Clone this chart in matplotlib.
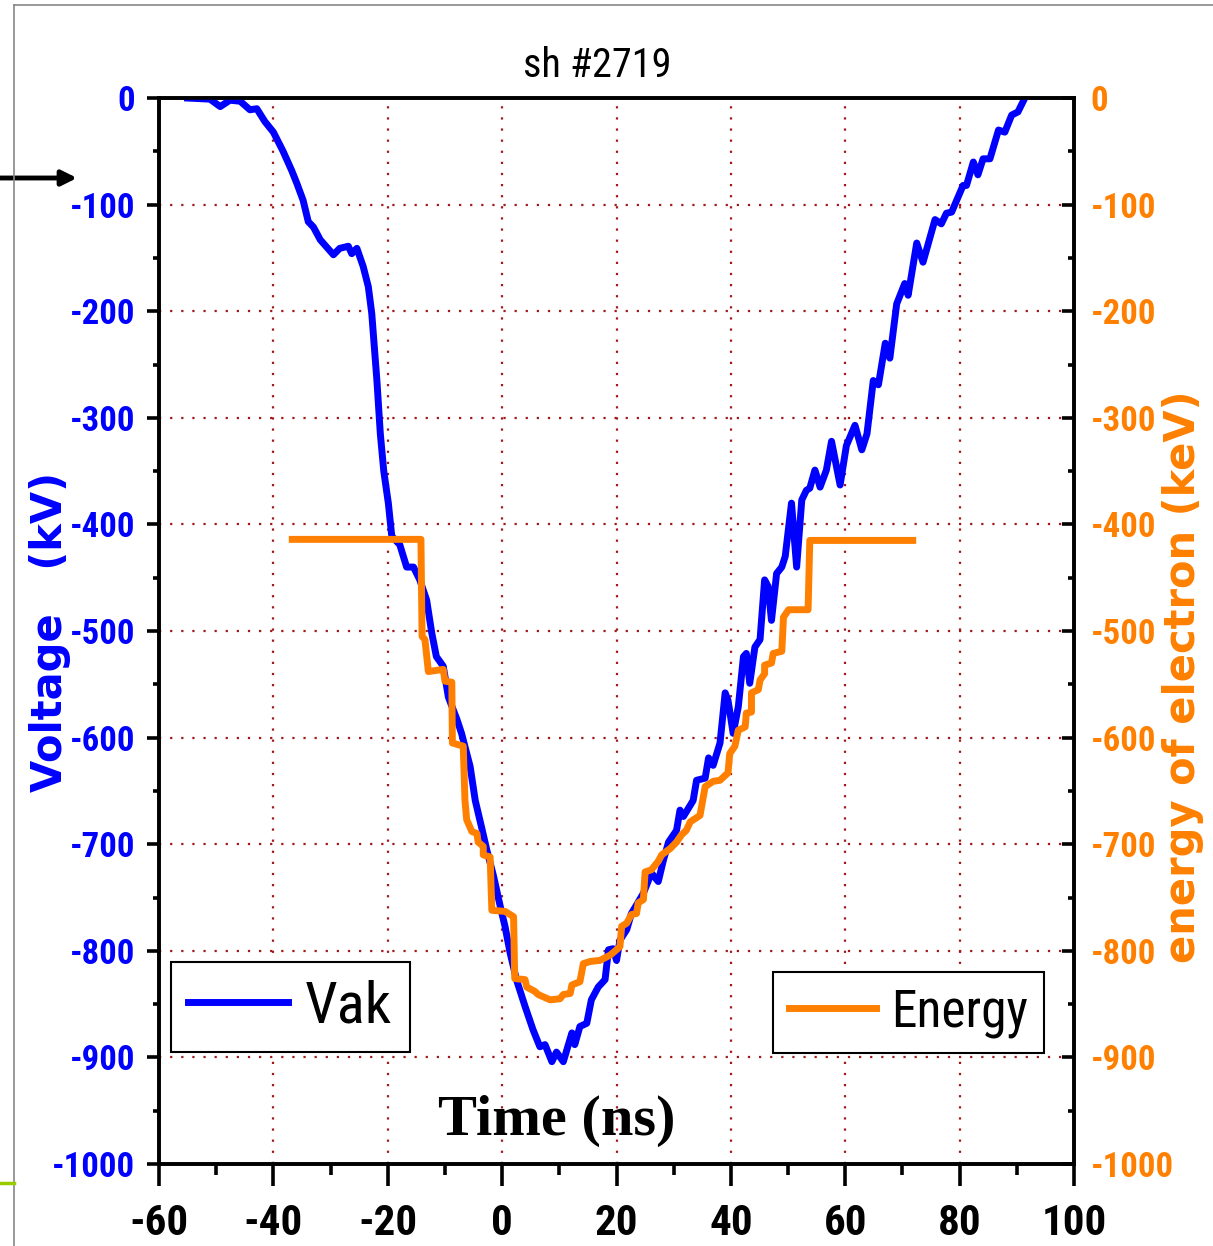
import matplotlib
matplotlib.use("Agg")
import matplotlib.pyplot as plt
from matplotlib.lines import Line2D
from matplotlib.ticker import MultipleLocator

plt.rcParams["axes.unicode_minus"] = False

# voltage trace Vak (kV) versus time (ns)
t_vak = [-55, -51.1, -49.3, -47.6, -45.8, -44.1, -42.9, -41.5, -40.0, -38.3, -36.8, -35.9,
         -34.8, -33.9, -33.0, -31.8, -29.5, -28.4, -26.9, -26.3, -25.4, -24.3, -23.4, -22.8,
         -21.9, -21.3, -20.7, -19.9, -19.3, -17.9, -16.7, -15.5, -14.4, -13.2, -12.3, -11.5,
         -10.3, -9.4, -7.9, -7.1, -5.6, -4.7, -3.6, -2.7, -1.5, -0.3, 0.5, 1.4, 2.5, 4.0,
         5.4, 6.6, 7.5, 8.7, 9.5, 10.7, 12.2, 12.7, 13.6, 14.8, 15.6, 16.8, 18.0, 18.6,
         19.4, 20.0, 20.6, 21.8, 22.6, 23.5, 24.7, 26.1, 27.3, 28.2, 29.1, 30.5, 31.1,
         31.7, 33.4, 34.0, 35.5, 36.1, 36.9, 38.1, 39.0, 39.5, 40.4, 41.3, 42.2, 42.7,
         43.3, 44.2, 45.1, 45.9, 46.5, 47.1, 48.0, 48.9, 49.5, 50.6, 51.5, 52.4, 53.2,
         53.8, 54.7, 55.6, 56.7, 57.6, 59.1, 60.2, 61.7, 62.9, 63.8, 64.9, 65.8, 67.0,
         67.8, 69.0, 70.4, 71.0, 72.5, 73.6, 75.7, 76.8, 77.7, 78.6, 80.6, 81.2, 82.4,
         83.2, 84.1, 85.3, 86.8, 87.9, 89.1, 90.2, 91.4]
v_vak = [0, -1, -8, -2, -3, -11, -10, -22, -32, -50, -68, -80,
         -96, -116, -121, -133, -147, -141, -139, -146, -141, -158, -177, -202,
         -265, -315, -350, -380, -411, -419, -440, -440, -452, -471, -502, -524,
         -533, -562, -583, -596, -627, -659, -684, -705, -730, -759, -777, -802, -827, -852,
         -874, -890, -888, -904, -895, -904, -877, -888, -871, -868, -846, -834, -827, -799,
         -798, -809, -790, -780, -765, -757, -746, -727, -735, -715, -698, -687, -668,
         -674, -659, -640, -638, -619, -626, -605, -558, -565, -596, -571, -524, -521,
         -549, -515, -508, -452, -458, -490, -446, -440, -430, -380, -440, -377, -368,
         -366, -349, -365, -349, -322, -363, -326, -307, -330, -315, -265, -269, -230,
         -244, -193, -174, -185, -136, -154, -114, -118, -108, -107, -82, -82, -60,
         -72, -57, -57, -30, -32, -16, -13, 0]

# electron energy (keV), stepped trace
t_en = [-36.7, -14.2, -14.0, -13.5, -12.9, -10.3, -10.0, -8.8, -8.7, -6.8, -6.5, -6.2,
        -5.3, -4.4, -4.2, -3.3, -3.3, -2.1, -1.8, 0.5, 2.0, 2.2, 4.0, 4.3, 5.7, 6.3,
        8.4, 10.1, 10.7, 11.9, 12.2, 13.6, 14.2, 15.4, 17.1, 18.9, 20.0, 20.6, 20.9,
        21.8, 22.6, 23.5, 23.8, 24.7, 25.0, 26.1, 27.3, 27.9, 29.4, 30.5, 31.4, 32.2,
        32.9, 34.6, 35.2, 35.5, 36.9, 38.1, 39.5, 39.8, 40.7, 41.3, 42.5, 42.7, 43.6,
        43.6, 44.8, 45.1, 45.9, 45.9, 47.1, 47.4, 48.9, 49.2, 50.1, 53.5, 53.8, 71.8]
e_en = [-414, -414, -505, -508, -538, -536, -547, -548, -605, -608, -659, -677,
        -688, -690, -698, -702, -710, -712, -762, -763, -768, -826, -827, -834, -838, -841,
        -846, -845, -841, -840, -832, -829, -812, -810, -809, -804, -799, -796, -777,
        -774, -766, -765, -755, -752, -726, -724, -716, -710, -704, -698, -691, -687,
        -679, -673, -655, -646, -641, -640, -633, -615, -608, -593, -590, -577, -576,
        -558, -555, -546, -540, -532, -530, -521, -519, -487, -480, -480, -415, -415]

narrow = ["Liberation Sans Narrow", "Noto Sans Condensed", "Roboto Condensed",
          "Arial Narrow", "Liberation Sans"]
blue = "#0000ff"
orange = "#ff8000"

fig = plt.figure(figsize=(12.13, 12.46), dpi=100)
ax = fig.add_axes([0.1311, 0.0658, 0.7543, 0.8555])
ax2 = ax.twinx()

ax.plot(t_vak, v_vak, color=blue, lw=5, label="Vak", zorder=3)
ax2.plot(t_en, e_en, color=orange, lw=5, label="Energy", zorder=3)

for a in (ax, ax2):
    a.set_xlim(-60, 100)
    a.set_ylim(-1000, 0)
    for s in a.spines.values():
        s.set_linewidth(2.6)

ax.xaxis.set_major_locator(MultipleLocator(20))
ax.xaxis.set_minor_locator(MultipleLocator(10))
ax.yaxis.set_major_locator(MultipleLocator(100))
ax.yaxis.set_minor_locator(MultipleLocator(50))
ax2.yaxis.set_major_locator(MultipleLocator(100))
ax2.yaxis.set_minor_locator(MultipleLocator(50))

ax.grid(True, which="major", color="#a01818", linestyle=(0, (1, 4)), lw=1.6)

ax.tick_params(axis="x", which="major", direction="out", length=16, width=2.6, pad=12)
ax.tick_params(axis="x", which="minor", direction="out", length=8, width=2.6)
ax.tick_params(axis="y", which="major", direction="out", length=9, width=2.6, pad=8,
               labelcolor=blue)
ax.tick_params(axis="y", which="minor", direction="out", length=4.5, width=2.6)
ax2.tick_params(axis="y", which="major", direction="in", length=9, width=2.6, pad=12,
                labelcolor=orange)
ax2.tick_params(axis="y", which="minor", direction="in", length=4.5, width=2.6)

for lab in ax.get_xticklabels():
    lab.set_family(narrow)
    lab.set_stretch("condensed")
    lab.set_weight("bold")
    lab.set_fontsize(31)
for lab in ax.get_yticklabels() + ax2.get_yticklabels():
    lab.set_family(narrow)
    lab.set_stretch("condensed")
    lab.set_weight("bold")
    lab.set_fontsize(25)

ax.set_title("sh #2719", family=narrow, fontstretch="condensed", fontsize=29, pad=15, x=0.479)

fig.text(0.041, 0.493, "Voltage   (kV)", rotation=90, color=blue, family="DejaVu Sans",
         weight="bold", fontsize=30, ha="center", va="center")
fig.text(0.975, 0.457, "energy of electron (keV)", rotation=90, color=orange,
         family="DejaVu Sans", weight="bold", fontsize=30, ha="center", va="center")

ax.text(0.435, 0.04, "Time (ns)", transform=ax.transAxes, family="Liberation Serif",
        weight="bold", fontsize=42, ha="center", va="center", zorder=5)

leg1 = ax.legend(loc="lower left", bbox_to_anchor=(0.013, 0.105), fancybox=False,
                 edgecolor="black", framealpha=1, handlelength=1.7, handletextpad=0.3,
                 borderpad=0.3, borderaxespad=0,
                 prop={"family": narrow, "size": 42, "stretch": "condensed"})
leg1.get_frame().set_linewidth(1.5)
leg2 = ax2.legend(loc="lower right", bbox_to_anchor=(0.967, 0.104), fancybox=False,
                  edgecolor="black", framealpha=1, handlelength=1.7, handletextpad=0.3,
                  borderpad=0.3, borderaxespad=0,
                  prop={"family": narrow, "size": 37, "stretch": "condensed"})
leg2.get_frame().set_linewidth(1.5)

# page decorations around the figure
fig.add_artist(Line2D([14 / 1213, 1], [1 - 5 / 1246, 1 - 5 / 1246], color="#888888", lw=1.2))
fig.add_artist(Line2D([14 / 1213, 14 / 1213], [0, 1 - 5 / 1246], color="#888888", lw=1.2))
fig.add_artist(Line2D([0, 14 / 1213], [1 - 1183 / 1246, 1 - 1183 / 1246], color="#99cc00", lw=2.5))
ax.annotate("", xy=(77, 1246 - 178), xycoords="figure pixels",
            xytext=(0, 1246 - 178), textcoords="figure pixels",
            arrowprops=dict(arrowstyle="-|>,head_length=0.9,head_width=0.45", color="black",
                            lw=3.5, shrinkA=0, shrinkB=0),
            annotation_clip=False)

fig.savefig("out.png", dpi=100)
